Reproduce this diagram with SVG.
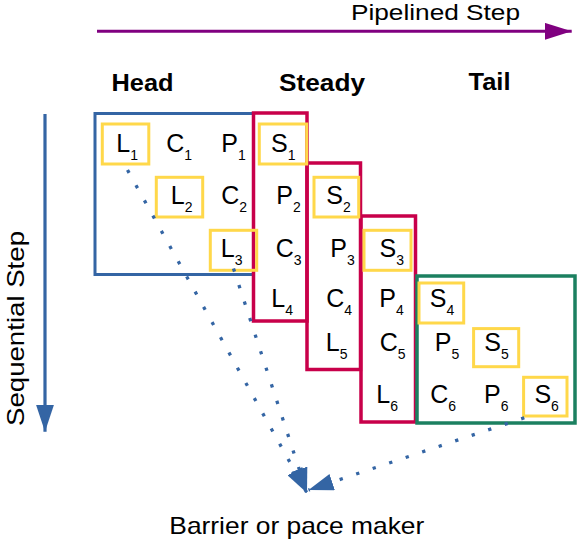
<svg xmlns="http://www.w3.org/2000/svg" width="577" height="539" viewBox="0 0 577 539">
<style>
text{font-family:"Liberation Sans",Arial,sans-serif;fill:#000}
.cell{font-size:25px}
.sub{font-size:14px}
.hdr{font-size:23px;font-weight:bold}
.lbl{font-size:22px}
.yb{fill:none;stroke:#ffd84a;stroke-width:3}
.red{fill:none;stroke:#c8004a;stroke-width:3.5}
.dot{fill:none;stroke:#3465a4;stroke-width:3.3;stroke-dasharray:3.3 14.1}
</style>
<defs>
<marker id="ah" markerUnits="userSpaceOnUse" markerWidth="25" markerHeight="17" refX="25" refY="8.5" orient="auto" viewBox="0 0 25 17"><path d="M0,0 L25,8.5 L0,17z" fill="#3465a4"/></marker>
<marker id="ahSeq" markerUnits="userSpaceOnUse" markerWidth="27" markerHeight="18" refX="27" refY="9" orient="auto" viewBox="0 0 27 18"><path d="M0,0 L27,9 L0,18z" fill="#3465a4"/></marker>
<marker id="ahPipe" markerUnits="userSpaceOnUse" markerWidth="27" markerHeight="17" refX="27" refY="8.5" orient="auto" viewBox="0 0 27 17"><path d="M0,0 L27,8.5 L0,17z" fill="#800080"/></marker>
</defs>

<g id="axes">
<path d="M97,31.3 H571.7" stroke="#800080" stroke-width="3" fill="none" marker-end="url(#ahPipe)"/>
<text class="lbl" x="351" y="20" textLength="169" lengthAdjust="spacingAndGlyphs">Pipelined Step</text>
<path d="M45,114 V431.7" stroke="#3465a4" stroke-width="3.2" fill="none" marker-end="url(#ahSeq)"/>
<text transform="translate(24,426) rotate(-90)" textLength="195" lengthAdjust="spacingAndGlyphs" style="font-size:24px">Sequential Step</text>
</g>

<g id="headers">
<text class="hdr" x="111.5" y="90.7" textLength="62" lengthAdjust="spacingAndGlyphs">Head</text>
<text class="hdr" x="279" y="90.7" textLength="86" lengthAdjust="spacingAndGlyphs">Steady</text>
<text class="hdr" x="468.5" y="90" textLength="42" lengthAdjust="spacingAndGlyphs">Tail</text>
</g>

<g id="head"><rect x="95" y="113.5" width="158.5" height="161" fill="none" stroke="#3465a4" stroke-width="3"/></g>
<g id="steady1"><rect class="red" x="253.5" y="113" width="53.5" height="208"/></g>
<g id="steady2"><rect class="red" x="307" y="163" width="53.5" height="206.5"/></g>
<g id="steady3"><rect class="red" x="361" y="216" width="54.5" height="206"/></g>
<g id="tail"><rect x="417" y="276" width="158" height="147" fill="none" stroke="#1b8060" stroke-width="3.5"/></g>

<g id="row1">
<g id="L1"><rect class="yb" x="102.3" y="124" width="46.5" height="40"/><text class="cell" x="116.3" y="152.3">L<tspan class="sub" dy="8">1</tspan></text></g>
<g id="C1"><text class="cell" x="166.3" y="152.3">C<tspan class="sub" dy="8">1</tspan></text></g>
<g id="P1"><text class="cell" x="221.3" y="152.3">P<tspan class="sub" dy="8">1</tspan></text></g>
<g id="S1"><rect class="yb" x="259.3" y="124" width="47.4" height="40"/><text class="cell" x="271" y="152.3">S<tspan class="sub" dy="8">1</tspan></text></g>
</g>
<g id="row2">
<g id="L2"><rect class="yb" x="156.3" y="177.3" width="46.4" height="39.7"/><text class="cell" x="170.8" y="204">L<tspan class="sub" dy="8">2</tspan></text></g>
<g id="C2"><text class="cell" x="221.3" y="204">C<tspan class="sub" dy="8">2</tspan></text></g>
<g id="P2"><text class="cell" x="276.3" y="204">P<tspan class="sub" dy="8">2</tspan></text></g>
<g id="S2"><rect class="yb" x="314" y="177.3" width="44.7" height="39.7"/><text class="cell" x="326.2" y="204">S<tspan class="sub" dy="8">2</tspan></text></g>
</g>
<g id="row3">
<g id="L3"><rect class="yb" x="210.3" y="230.3" width="46.4" height="40"/><text class="cell" x="220.8" y="256.7">L<tspan class="sub" dy="8">3</tspan></text></g>
<g id="C3"><text class="cell" x="275.8" y="256.7">C<tspan class="sub" dy="8">3</tspan></text></g>
<g id="P3"><text class="cell" x="330.3" y="256.7">P<tspan class="sub" dy="8">3</tspan></text></g>
<g id="S3"><rect class="yb" x="364" y="230.3" width="47" height="40"/><text class="cell" x="379.5" y="256.7">S<tspan class="sub" dy="8">3</tspan></text></g>
</g>
<g id="row4">
<g id="L4"><text class="cell" x="271.3" y="306.7">L<tspan class="sub" dy="8">4</tspan></text></g>
<g id="C4"><text class="cell" x="326.3" y="306.7">C<tspan class="sub" dy="8">4</tspan></text></g>
<g id="P4"><text class="cell" x="379.3" y="306.7">P<tspan class="sub" dy="8">4</tspan></text></g>
<g id="S4"><rect class="yb" x="419" y="283" width="44.7" height="40"/><text class="cell" x="429.8" y="306.7">S<tspan class="sub" dy="8">4</tspan></text></g>
</g>
<g id="row5">
<g id="L5"><text class="cell" x="325.8" y="351">L<tspan class="sub" dy="8">5</tspan></text></g>
<g id="C5"><text class="cell" x="379.8" y="351">C<tspan class="sub" dy="8">5</tspan></text></g>
<g id="P5"><text class="cell" x="434.8" y="351">P<tspan class="sub" dy="8">5</tspan></text></g>
<g id="S5"><rect class="yb" x="473.6" y="328.6" width="45.1" height="38.1"/><text class="cell" x="484.2" y="351">S<tspan class="sub" dy="8">5</tspan></text></g>
</g>
<g id="row6">
<g id="L6"><text class="cell" x="376.3" y="403.3">L<tspan class="sub" dy="8">6</tspan></text></g>
<g id="C6"><text class="cell" x="430.3" y="403.3">C<tspan class="sub" dy="8">6</tspan></text></g>
<g id="P6"><text class="cell" x="484" y="403.3">P<tspan class="sub" dy="8">6</tspan></text></g>
<g id="S6"><rect class="yb" x="523.6" y="377.3" width="43.4" height="38.7"/><text class="cell" x="534.4" y="403.3">S<tspan class="sub" dy="8">6</tspan></text></g>
</g>

<g id="connectors">
<path class="dot" d="M127.5,170 L307,493" marker-end="url(#ah)"/>
<path class="dot" d="M233.5,268.5 L307,493" marker-end="url(#ah)"/>
<path class="dot" d="M524.3,417.8 L308.5,490" marker-end="url(#ah)"/>
</g>

<g id="barrier"><text x="169.3" y="534" style="font-size:24px" textLength="255" lengthAdjust="spacingAndGlyphs">Barrier or pace maker</text></g>
</svg>
